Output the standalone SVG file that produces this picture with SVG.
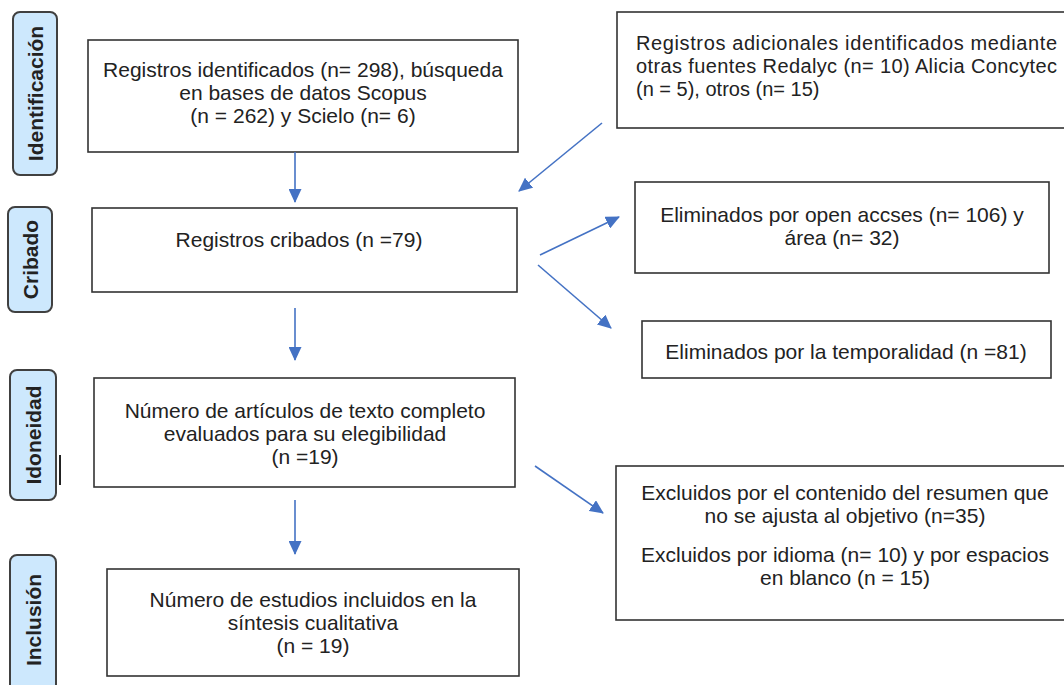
<svg xmlns="http://www.w3.org/2000/svg" width="1064" height="685" viewBox="0 0 1064 685">
<style>
.box{fill:#fff;stroke:#333;stroke-width:1.6}
.lbl{fill:#cde8fd;stroke:#404040;stroke-width:2}
.t{font-family:"Liberation Sans",Arial,sans-serif;font-size:21px;fill:#222;text-anchor:middle}
.tl{font-family:"Liberation Sans",Arial,sans-serif;font-size:20px;fill:#222}
.lt{font-family:"Liberation Sans",Arial,sans-serif;font-size:21px;font-weight:bold;fill:#222;text-anchor:middle}
.arr{stroke:#4472c4;stroke-width:1.6;fill:none;marker-end:url(#ah)}
</style>
<defs>
<marker id="ah" viewBox="0 0 14 13" refX="13" refY="6.5" markerWidth="14" markerHeight="13" markerUnits="userSpaceOnUse" orient="auto">
<path d="M0,0 L14,6.5 L0,13 z" fill="#4472c4"/>
</marker>
</defs>
<rect width="1064" height="685" fill="#fff"/>

<g id="lbl-identificacion">
<rect class="lbl" x="13" y="12" width="44" height="163" rx="7"/>
<text class="lt" transform="translate(42.5,93.5) rotate(-90)">Identificación</text>
</g>
<g id="lbl-cribado">
<rect class="lbl" x="8" y="207" width="44" height="105" rx="7"/>
<text class="lt" transform="translate(37.5,259.5) rotate(-90)">Cribado</text>
</g>
<g id="lbl-idoneidad">
<rect class="lbl" x="10" y="370" width="46" height="130" rx="7"/>
<text class="lt" transform="translate(40.5,435) rotate(-90)">Idoneidad</text>
</g>
<line x1="60" y1="455" x2="60" y2="485" stroke="#222" stroke-width="2"/>
<g id="lbl-inclusion">
<rect class="lbl" x="10" y="555" width="46" height="140" rx="7"/>
<text class="lt" transform="translate(40.5,620) rotate(-90)">Inclusión</text>
</g>

<g id="n-identificados">
<rect class="box" x="88" y="40" width="430" height="112"/>
<text class="t" x="303" y="77">Registros identificados (n= 298), búsqueda</text>
<text class="t" x="303" y="100">en bases de datos Scopus</text>
<text class="t" x="303" y="123">(n = 262) y Scielo (n= 6)</text>
</g>
<g id="n-adicionales">
<rect class="box" x="617" y="12" width="460" height="116"/>
<text class="tl" x="636" y="50" textLength="421" lengthAdjust="spacing">Registros adicionales identificados mediante</text>
<text class="tl" x="636" y="73" textLength="421" lengthAdjust="spacing">otras fuentes Redalyc (n= 10) Alicia Concytec</text>
<text class="tl" x="636" y="96">(n = 5), otros (n= 15)</text>
</g>
<g id="n-cribados">
<rect class="box" x="92" y="208" width="425" height="84"/>
<text class="t" x="299" y="247">Registros cribados (n =79)</text>
</g>
<g id="n-elim-open">
<rect class="box" x="635" y="182" width="414" height="91"/>
<text class="t" x="842" y="222">Eliminados por open accses (n= 106) y</text>
<text class="t" x="842" y="245">área (n= 32)</text>
</g>
<g id="n-elim-temp">
<rect class="box" x="642" y="321" width="409" height="57"/>
<text class="t" x="846" y="359">Eliminados por la temporalidad (n =81)</text>
</g>
<g id="n-elegibilidad">
<rect class="box" x="94" y="378" width="421" height="109"/>
<text class="t" x="305" y="418">Número de artículos de texto completo</text>
<text class="t" x="305" y="441">evaluados para su elegibilidad</text>
<text class="t" x="305" y="464">(n =19)</text>
</g>
<g id="n-excluidos">
<rect class="box" x="616" y="466" width="460" height="154"/>
<text class="t" x="845" y="500">Excluidos por el contenido del resumen que</text>
<text class="t" x="845" y="523">no se ajusta al objetivo (n=35)</text>
<text class="t" x="845" y="562">Excluidos por idioma (n= 10) y por espacios</text>
<text class="t" x="845" y="585">en blanco (n = 15)</text>
</g>
<g id="n-incluidos">
<rect class="box" x="107" y="569" width="412" height="107"/>
<text class="t" x="313" y="607">Número de estudios incluidos en la</text>
<text class="t" x="313" y="630">síntesis cualitativa</text>
<text class="t" x="313" y="653">(n = 19)</text>
</g>

<g id="connectors">
<line class="arr" x1="295" y1="152" x2="295" y2="202"/>
<line class="arr" x1="602" y1="123" x2="519" y2="191"/>
<line class="arr" x1="295" y1="308" x2="295" y2="360"/>
<line class="arr" x1="295" y1="500" x2="295" y2="554"/>
<line class="arr" x1="540" y1="255" x2="619" y2="217"/>
<line class="arr" x1="538" y1="265" x2="611" y2="328"/>
<line class="arr" x1="535" y1="466" x2="603" y2="513"/>
</g>
</svg>
